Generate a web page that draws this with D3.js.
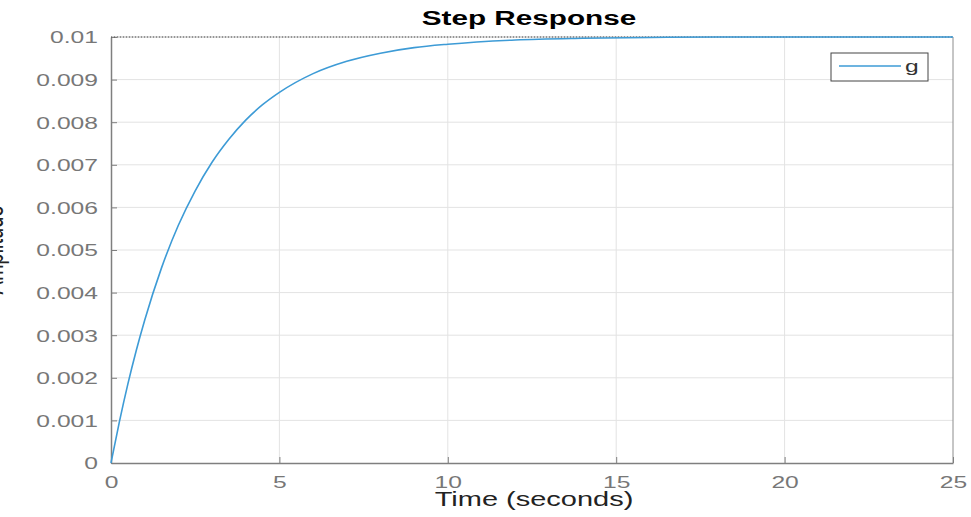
<!DOCTYPE html>
<html>
<head>
<meta charset="utf-8">
<script src="https://cdn.jsdelivr.net/npm/d3@7"></script>
<style>
  body { margin: 0; background: #fff; }
  svg { font-family: "Liberation Sans", Arial, sans-serif; }
</style>
</head>
<body>
<div id="chart"></div>
<script>
// step response samples
const timeValues = [0, 0.25, 0.5, 0.75, 1, 1.5, 2, 2.5, 3, 3.5, 4, 4.5, 5, 6, 7, 8, 9, 10, 12, 14, 16, 18, 20, 25];
const ampValues = [0, 0.00097, 0.00185, 0.00264, 0.00335, 0.00458, 0.00558, 0.00639, 0.00706, 0.0076, 0.00805,
  0.00841, 0.0087, 0.00914, 0.00943, 0.00962, 0.00975, 0.00983, 0.00993, 0.00997, 0.00999, 0.01, 0.01, 0.01];
const xTicks = [0, 5, 10, 15, 20, 25];
const yTicks = [0, 0.001, 0.002, 0.003, 0.004, 0.005, 0.006, 0.007, 0.008, 0.009, 0.01];
const steadyState = 0.01;

const width = 971;
const height = 517;
const margin = { top: 37, right: 18, bottom: 54, left: 111 };
const stretch = 1.45; // the text in the picture is drawn wide

const svg = d3.select('#chart').append('svg')
  .attr('width', width)
  .attr('height', height);

const x = d3.scaleLinear().domain([0, 25]).range([margin.left, width - margin.right]);
const y = d3.scaleLinear().domain([0, 0.01]).range([height - margin.bottom, margin.top]);

// grid
svg.append('g')
  .selectAll('line')
  .data(xTicks.slice(1, -1))
  .join('line')
  .attr('x1', (d) => x(d)).attr('x2', (d) => x(d))
  .attr('y1', y(0)).attr('y2', y(0.01))
  .attr('stroke', '#e3e3e3');

svg.append('g')
  .selectAll('line')
  .data(yTicks.slice(1, -1))
  .join('line')
  .attr('x1', x(0)).attr('x2', x(25))
  .attr('y1', (d) => y(d)).attr('y2', (d) => y(d))
  .attr('stroke', '#e3e3e3');

// box (top/right)
svg.append('line')
  .attr('x1', x(25)).attr('x2', x(25))
  .attr('y1', y(0)).attr('y2', y(0.01))
  .attr('stroke', '#8c8c8c');
svg.append('line')
  .attr('x1', x(0)).attr('x2', x(25))
  .attr('y1', y(0.01)).attr('y2', y(0.01))
  .attr('stroke', '#b0b0b0');

// axes
const xAxis = d3.axisBottom(x).tickValues(xTicks).tickSizeInner(-6).tickSizeOuter(0).tickPadding(13)
  .tickFormat(d3.format('d'));
const yAxis = d3.axisLeft(y).tickValues(yTicks).tickSizeInner(-6).tickSizeOuter(0).tickPadding(13)
  .tickFormat((d) => (d === 0 ? '0' : d3.format('')(+d.toFixed(3))));

const gx = svg.append('g').attr('transform', `translate(0,${y(0)})`).call(xAxis);
const gy = svg.append('g').attr('transform', `translate(${x(0)},0)`).call(yAxis);

[gx, gy].forEach((g) => {
  g.select('.domain').attr('stroke', '#7f7f7f').attr('stroke-width', 1.5);
  g.selectAll('.tick line').attr('stroke', '#7f7f7f');
  g.selectAll('.tick text')
    .attr('fill', '#777')
    .style('font-size', '17px')
    .attr('transform', `scale(${stretch},1)`);
});
gx.selectAll('.tick text').attr('dy', '0.72em');
gy.selectAll('.tick text')
  .attr('dy', '0.35em')
  .attr('x', -13 / stretch);

// steady state dotted line
svg.append('line')
  .attr('x1', x(0)).attr('x2', x(25))
  .attr('y1', y(steadyState)).attr('y2', y(steadyState))
  .attr('stroke', '#555')
  .attr('stroke-dasharray', '1,2');

// response curve
const line = d3.line()
  .x((d, i) => x(timeValues[i]))
  .y((d) => y(d))
  .curve(d3.curveMonotoneX);

svg.append('path')
  .datum(ampValues)
  .attr('fill', 'none')
  .attr('stroke', '#3d9bd6')
  .attr('stroke-width', 1.6)
  .attr('d', line);

// title and labels
svg.append('text')
  .attr('transform', `translate(529,25) scale(${stretch},1)`)
  .attr('text-anchor', 'middle')
  .style('font-size', '20.5px').style('font-weight', 'bold')
  .text('Step Response');

svg.append('text')
  .attr('transform', `translate(534,506) scale(${stretch},1)`)
  .attr('text-anchor', 'middle')
  .style('font-size', '20px')
  .attr('fill', '#222')
  .text('Time (seconds)');

svg.append('text')
  .attr('transform', `translate(3,250) scale(${stretch},1) rotate(-90)`)
  .attr('text-anchor', 'middle')
  .style('font-size', '20px')
  .attr('fill', '#222')
  .text('Amplitude');

// legend
const legend = svg.append('g').attr('transform', 'translate(831,53)');
legend.append('rect')
  .attr('width', 97).attr('height', 28)
  .attr('fill', '#fff')
  .attr('stroke', '#444');
legend.append('line')
  .attr('x1', 8).attr('x2', 70)
  .attr('y1', 13).attr('y2', 13)
  .attr('stroke', '#3d9bd6').attr('stroke-width', 1.6);
legend.append('text')
  .attr('transform', `translate(74,19) scale(${stretch},1)`)
  .style('font-size', '17px')
  .attr('fill', '#333')
  .text('g');
</script>
</body>
</html>
